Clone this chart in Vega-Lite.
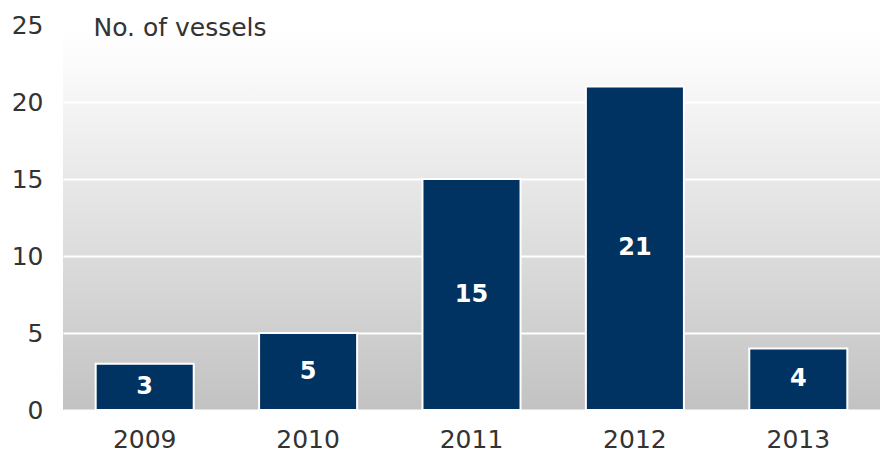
{
  "$schema": "https://vega.github.io/schema/vega-lite/v6.json",
  "autosize": "none",
  "width": 817,
  "height": 385,
  "padding": {"left": 63, "top": 25, "right": 0, "bottom": 44},
  "background": "white",
  "data": {"values": [
    {"year": "2009", "vessels": 3},
    {"year": "2010", "vessels": 5},
    {"year": "2011", "vessels": 15},
    {"year": "2012", "vessels": 21},
    {"year": "2013", "vessels": 4}
  ]},
  "config": {
    "font": "DejaVu Sans",
    "view": {
      "stroke": null,
      "fill": {"gradient": "linear", "x1": 0, "y1": 0, "x2": 0, "y2": 1,
        "stops": [{"offset": 0, "color": "#ffffff"}, {"offset": 0.1, "color": "#fbfbfb"}, {"offset": 1, "color": "#c2c2c2"}]}
    }
  },
  "encoding": {
    "x": {"field": "year", "type": "ordinal", "scale": {"paddingInner": 0.4, "paddingOuter": 0.2},
      "axis": {"title": null, "labelAngle": 0, "labelFontSize": 25, "labelColor": "#333333", "labelPadding": 17, "ticks": false, "domain": false, "grid": false}}
  },
  "layer": [
    {
      "mark": {"type": "bar", "color": "#003262", "stroke": "white", "strokeWidth": 2},
      "encoding": {
        "y": {"field": "vessels", "type": "quantitative", "scale": {"domain": [0, 25], "nice": false},
          "axis": {"values": [0, 5, 10, 15, 20, 25], "title": "No. of vessels", "titleAngle": 0, "titleAlign": "left", "titleBaseline": "middle",
            "titleX": 30, "titleY": 2, "titleFontSize": 25, "titleFontWeight": "normal", "titleColor": "#333333",
            "labelFontSize": 25, "labelColor": "#333333", "labelPadding": 20, "ticks": false, "domain": false,
            "grid": true, "gridColor": "white", "gridWidth": 2, "gridOpacity": 1}}
      }
    },
    {
      "transform": [{"calculate": "datum.vessels / 2", "as": "mid"}],
      "mark": {"type": "text", "color": "white", "fontWeight": "bold", "fontSize": 24, "baseline": "middle"},
      "encoding": {
        "y": {"field": "mid", "type": "quantitative"},
        "text": {"field": "vessels", "type": "quantitative"}
      }
    }
  ]
}
